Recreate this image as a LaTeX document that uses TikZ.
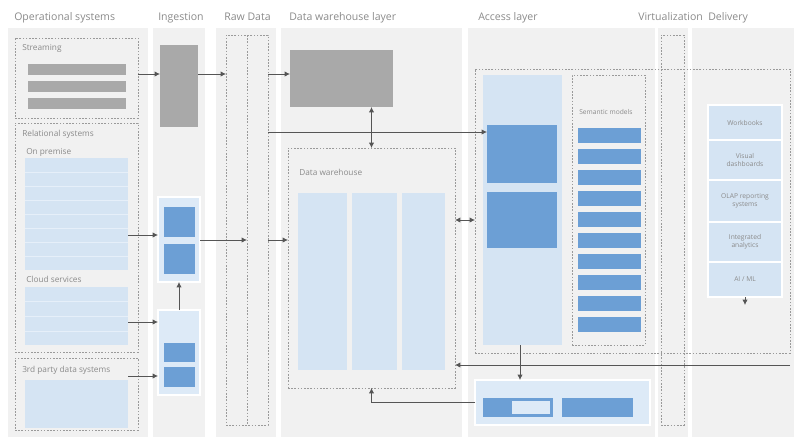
\documentclass[tikz,border=0pt]{standalone}
\usepackage{fontspec}
\setmainfont{Open Sans}
\usetikzlibrary{fit,arrows.meta}
\definecolor{panelgrey}{HTML}{F1F1F1}
\definecolor{bargrey}{HTML}{A9A9A9}
\definecolor{lineblue}{HTML}{D5E4F3}
\definecolor{paleblue}{HTML}{DDEAF7}
\definecolor{stripeblue}{HTML}{E6EFF9}
\definecolor{deepblue}{HTML}{6C9FD5}
\definecolor{txtgrey}{HTML}{8A8A8A}
\definecolor{dashgrey}{HTML}{9A9A9A}
\definecolor{arrgrey}{HTML}{555555}
\tikzset{
  region/.style={inner sep=0pt, outer sep=0pt},
  panel/.style={region, fill=panelgrey},
  dashbox/.style={region, draw=dashgrey, line width=0.5pt, dash pattern=on 1.2pt off 1.2pt},
  greybar/.style={region, fill=bargrey},
  lightbox/.style={region, fill=lineblue},
  palebox/.style={region, fill=paleblue, draw=white, line width=0.8pt},
  darkbox/.style={region, fill=deepblue},
  header/.style={font=\fontsize{7.9}{9}\selectfont, text=txtgrey, anchor=base west, inner sep=0pt},
  lbl/.style={font=\fontsize{6.2}{7}\selectfont, text=txtgrey, anchor=base west, inner sep=0pt},
  cell/.style={region, fill=lineblue, draw=white, line width=0.8pt},
  celltext/.style={font=\fontsize{5}{6}\selectfont, text=txtgrey, align=center},
  arr/.style={draw=arrgrey, line width=0.6pt, -{Latex[length=4pt,width=4pt]}},
  darr/.style={draw=arrgrey, line width=0.6pt, {Latex[length=4pt,width=4pt]}-{Latex[length=4pt,width=4pt]}},
  stripe/.style={draw=stripeblue, line width=0.6pt},
}
\begin{document}
\begin{tikzpicture}[x=0.75pt,y=-0.75pt]
\useasboundingbox (0,0) rectangle (794,437);

% ---------- column backgrounds ----------
\node[panel, fit={(8,28) (148,437)}] (colOps) {};
\node[panel, fit={(153,28) (205,437)}] (colIng) {};
\node[panel, fit={(216,28) (276,437)}] (colRaw) {};
\node[panel, fit={(281,28) (462,437)}] (colDw) {};
\node[panel, fit={(468,28) (655,437)}] (colAcc) {};
\node[panel, fit={(658,28) (688,437)}] (colVirt) {};
\node[panel, fit={(692,28) (794,437)}] (colDel) {};

% ---------- column headers ----------
\node[header] (hOps) at (14,20) {Operational systems};
\node[header] (hIng) at (158,20) {Ingestion};
\node[header] (hRaw) at (224,20) {Raw Data};
\node[header] (hDw) at (289,20) {Data warehouse layer};
\node[header] (hAcc) at (478,20) {Access layer};
\node[header] (hVirt) at (638,20) {Virtualization};
\node[header] (hDel) at (708,20) {Delivery};

% ---------- operational systems ----------
\node[dashbox, fit={(15,38) (138,118)}] (strm) {};
\node[lbl] (lStrm) at (22,50) {Streaming};
\node[greybar, fit={(28,64) (126,75)}] (bar1) {};
\node[greybar, fit={(28,81) (126,92)}] (bar2) {};
\node[greybar, fit={(28,98) (126,109)}] (bar3) {};

\node[dashbox, fit={(15,123) (138,352)}] (rel) {};
\node[lbl] (lRel) at (22,136) {Relational systems};
\node[lbl] (lPrem) at (26,154) {On premise};
\node[lightbox, fit={(25,158) (128,270)}] (onprem) {};
\foreach \yy in {172,186,200,214,228,242,256}
  \draw[stripe] (onprem.west |- 0,\yy) -- (onprem.east |- 0,\yy);
\node[lbl] (lCloud) at (26,282) {Cloud services};
\node[lightbox, fit={(25,287) (128,345)}] (cloud) {};
\foreach \yy in {301,316,331}
  \draw[stripe] (cloud.west |- 0,\yy) -- (cloud.east |- 0,\yy);

\node[dashbox, fit={(15,358) (138,430)}] (third) {};
\node[lbl] (lThird) at (22,372) {3rd party data systems};
\node[lightbox, fit={(25,380) (128,428)}] (thirdsrc) {};

% ---------- ingestion ----------
\node[greybar, fit={(160,45) (198,127)}] (ingG) {};
\node[palebox, fit={(158,197) (200,282)}] (ingB1) {};
\node[darkbox, fit={(164,207) (195,237)}] (ingB1a) {};
\node[darkbox, fit={(164,244) (195,274)}] (ingB1b) {};
\node[palebox, fit={(158,310) (200,395)}] (ingB2) {};
\node[darkbox, fit={(164,343) (195,362)}] (ingB2a) {};
\node[darkbox, fit={(164,367) (195,387)}] (ingB2b) {};

% ---------- raw data ----------
\node[dashbox, fit={(226,35) (268,425)}] (raw) {};
\draw[dashgrey, line width=0.5pt, dash pattern=on 1.2pt off 1.2pt] (raw.north) -- (raw.south);

% ---------- data warehouse layer ----------
\node[greybar, fit={(290,50) (393,107)}] (dwG) {};
\node[dashbox, fit={(288,148) (455,388)}] (dw) {};
\node[lbl] (lDw) at (299,175) {Data warehouse};
\node[lightbox, fit={(298,193) (347,370)}] (dwC1) {};
\node[lightbox, fit={(352,193) (397,370)}] (dwC2) {};
\node[lightbox, fit={(402,193) (445,370)}] (dwC3) {};

% ---------- access layer ----------
\node[dashbox, fit={(475,69) (790,353)}] (accOuter) {};
\node[lightbox, fit={(483,75) (562,345)}] (accIn) {};
\node[darkbox, fit={(487,125) (557,183)}] (acc1) {};
\node[darkbox, fit={(487,192) (557,248)}] (acc2) {};
\node[dashbox, fit={(572,75) (645,345)}] (sem) {};
\node[lbl, font=\fontsize{5}{6}\selectfont] (lSem) at (579,114) {Semantic models};
\foreach \i in {0,...,9}
  \node[darkbox, fit={(578,128+21*\i) (641,143+21*\i)}] (sm\i) {};

\node[palebox, fit={(475,380) (650,425)}] (accB) {};
\node[darkbox, fit={(483,398) (553,417)}] (accB1) {};
\node[region, fill=paleblue, fit={(512,401) (550,414)}] (accB1w) {};
\node[darkbox, fit={(562,398) (633,417)}] (accB2) {};

% ---------- virtualization ----------
\node[dashbox, fit={(661,35) (684,425)}] (virt) {};

% ---------- delivery ----------
\node[cell, fit={(708,105) (782,140)}] (d1) {};
\node[cell, fit={(708,140) (782,180)}] (d2) {};
\node[cell, fit={(708,180) (782,222)}] (d3) {};
\node[cell, fit={(708,222) (782,262)}] (d4) {};
\node[cell, fit={(708,262) (782,297)}] (d5) {};
\node[celltext] (t1) at (d1) {Workbooks};
\node[celltext] (t2) at (d2) {Visual\\dashboards};
\node[celltext] (t3) at (d3) {OLAP reporting\\systems};
\node[celltext] (t4) at (d4) {Integrated\\analytics};
\node[celltext] (t5) at (d5) {AI / ML};

% ---------- flow rows ----------
\coordinate (rowA) at (0,74);
\coordinate (rowB) at (0,132);
\coordinate (rowC) at (0,240);
\coordinate (rowP) at (0,235);
\coordinate (rowQ) at (0,322);
\coordinate (rowR) at (0,376);
\coordinate (rowD) at (0,220);
\coordinate (busR) at (790,365);
\coordinate (delTip) at (745,305);

% ---------- connectors ----------
\draw[arr] (strm.east |- rowA) -- (ingG.west |- rowA);
\draw[arr] (ingG.east |- rowA) -- (raw.west |- rowA);
\draw[arr] (raw.east |- rowA) -- (dwG.west |- rowA);
\draw[arr] (onprem.east |- rowP) -- (ingB1.west |- rowP);
\draw[arr] (cloud.east |- rowQ) -- (ingB2.west |- rowQ);
\draw[arr] (thirdsrc.east |- rowR) -- (ingB2.west |- rowR);
\draw[arr] (ingB2.north) -- (ingB1.south);
\draw[arr] (ingB1.east |- rowC) -- (raw.center |- rowC);
\draw[arr] (raw.east |- rowC) -- (dw.west |- rowC);
\draw[arr] (raw.east |- rowB) -- (acc1.west |- rowB);
\draw[darr] (dw.north |- dwG.south) -- (dw.north);
\draw[darr] (dw.east |- rowD) -- (accOuter.west |- rowD);
\draw[arr] (d5.south -| delTip) -- (delTip);
\draw[arr] (busR) -- (dw.east |- busR);
\draw[arr] (accIn.south -| 520,0) -- (accB.north -| 520,0);
\draw[arr] (accB.west) -| (dw.south);
\end{tikzpicture}
\end{document}
